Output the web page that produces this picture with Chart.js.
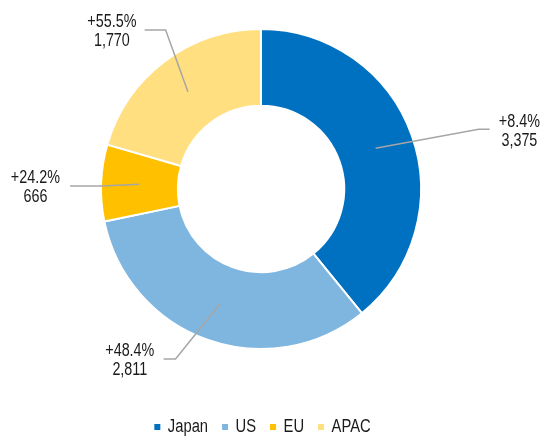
<!DOCTYPE html>
<html>
<head>
<meta charset="utf-8">
<script src="https://cdn.jsdelivr.net/npm/chart.js@4/dist/chart.umd.min.js"></script>
<style>
html,body{margin:0;padding:0;background:#fff;}
#wrap{width:543px;height:437px;position:relative;}
</style>
</head>
<body>
<div id="wrap"><canvas id="c" width="543" height="437"></canvas></div>
<script>
const categories = ["Japan", "US", "EU", "APAC"];
const values = [3375, 2811, 666, 1770];
const growth = ["+8.4%", "+48.4%", "+24.2%", "+55.5%"];
const colors = ["#0070C0", "#7FB6E0", "#FFC000", "#FFDF80"];

// label placement in units of outer radius, relative to chart centre
const labelPos = [[1.615, -0.36], [-0.82, 1.075], [-1.41, -0.006], [-0.932, -0.981]];
const elbowPos = [[1.36, -0.373], [-0.534, 1.062], [-1.0, -0.019], [-0.596, -0.994]];
const endPos   = [[1.429, -0.373], [-0.609, 1.062], [-1.193, -0.019], [-0.727, -0.994]];

const FONT = "'Liberation Sans', Arial, sans-serif";
const NARROW = 0.82; // emulate Arial Narrow

function fmt(v){ return v.toLocaleString('en-US'); }

function narrowText(ctx, text, x, y, size, align){
  ctx.save();
  ctx.font = size + 'px ' + FONT;
  ctx.textAlign = align;
  ctx.textBaseline = 'middle';
  ctx.translate(x, y);
  ctx.scale(NARROW, 1);
  ctx.fillText(text, 0, 0);
  ctx.restore();
}
function narrowWidth(ctx, text, size){
  ctx.save();
  ctx.font = size + 'px ' + FONT;
  const w = ctx.measureText(text).width * NARROW;
  ctx.restore();
  return w;
}

const leaderPlugin = {
  id: 'leaders',
  afterDatasetsDraw(chart){
    const ctx = chart.ctx;
    const meta = chart.getDatasetMeta(0);
    ctx.save();
    meta.data.forEach((arc, i) => {
      const p = arc.getProps(['x','y','startAngle','endAngle','innerRadius','outerRadius'], true);
      const mid = (p.startAngle + p.endAngle) / 2;
      const rm = (p.innerRadius + p.outerRadius) / 2;
      const R = p.outerRadius;
      const sx = p.x + Math.cos(mid) * rm, sy = p.y + Math.sin(mid) * rm;
      const ex = p.x + elbowPos[i][0] * R, ey = p.y + elbowPos[i][1] * R;
      const tx = p.x + endPos[i][0] * R, ty = p.y + endPos[i][1] * R;
      ctx.strokeStyle = '#A6A6A6';
      ctx.lineWidth = 1.5;
      ctx.beginPath();
      ctx.moveTo(sx, sy); ctx.lineTo(ex, ey); ctx.lineTo(tx, ty);
      ctx.stroke();
      const lx = p.x + labelPos[i][0] * R, ly = p.y + labelPos[i][1] * R;
      ctx.fillStyle = '#1A1A1A';
      narrowText(ctx, growth[i], lx, ly - 9.5, 17.5, 'center');
      narrowText(ctx, fmt(values[i]), lx, ly + 9.5, 17.5, 'center');
    });
    ctx.restore();
  }
};

const legendPlugin = {
  id: 'narrowLegend',
  afterDraw(chart){
    const ctx = chart.ctx;
    const size = 18, box = 6, gapText = 10.5, gapItem = 17;
    const y = 427;
    const widths = categories.map(c => narrowWidth(ctx, c, size));
    let total = 0;
    widths.forEach((w, i) => { total += box/2 + gapText + w + (i < widths.length - 1 ? gapItem : 0); });
    total += box/2;
    let x = (chart.chartArea.left + chart.chartArea.right) / 2 + 7.5 - total / 2;
    ctx.save();
    categories.forEach((c, i) => {
      ctx.fillStyle = colors[i];
      ctx.fillRect(x, y - box/2, box, box);
      const cx = x + box/2;
      ctx.fillStyle = '#1A1A1A';
      narrowText(ctx, c, cx + gapText, y, size, 'left');
      x = cx + gapText + widths[i] + gapItem - box/2;
    });
    ctx.restore();
  }
};

new Chart(document.getElementById('c'), {
  type: 'doughnut',
  data: {
    labels: categories,
    datasets: [{
      data: values,
      backgroundColor: colors,
      borderColor: '#FFFFFF',
      borderWidth: 2,
      hoverOffset: 0
    }]
  },
  options: {
    responsive: false,
    animation: false,
    cutout: '52%',
    layout: { padding: { top: 28, left: 100, right: 121, bottom: 87 } },
    plugins: {
      tooltip: { enabled: false },
      legend: { display: false }
    }
  },
  plugins: [leaderPlugin, legendPlugin]
});
</script>
</body>
</html>
